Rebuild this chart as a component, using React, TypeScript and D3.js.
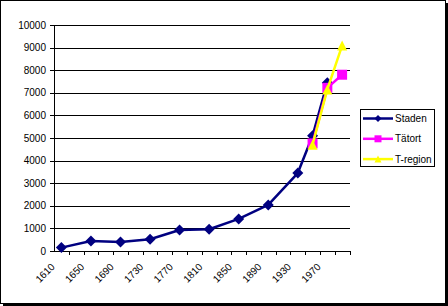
import React from "react";
import * as d3 from "d3";

const years = [
  "1610", "1630", "1650", "1670", "1690", "1710", "1730", "1750", "1770", "1790",
  "1810", "1830", "1850", "1870", "1890", "1910", "1930", "1950", "1970", "1990",
];
const staden: (number | null)[] = [150, null, 440, null, 400, null, 520, null, 930, null, 960, null, 1420, null, 2040, null, 3450, 5100, 7450, null];
const tatort: (number | null)[] = [null, null, null, null, null, null, null, null, null, null, null, null, null, null, null, null, null, 4760, 7220, 7800];
const tregion: (number | null)[] = [null, null, null, null, null, null, null, null, null, null, null, null, null, null, null, null, null, 4700, 7150, 9090];
const yTicks = [0, 1000, 2000, 3000, 4000, 5000, 6000, 7000, 8000, 9000, 10000];
const xLabelEvery = 2;

const seriesNames = ["Staden", "Tätort", "T-region"];
const seriesData = [staden, tatort, tregion];
const colors = ["#000080", "#FF00FF", "#FFFF00"];

const W = 448;
const H = 306;
const left = 54;
const right = 349.5;
const top = 25;
const bottom = 251;
const font = "'Liberation Sans', Arial, sans-serif";

function markerPath(k: number, s: number) {
  const h = s / 2;
  if (k === 0) return `M0,${-h}L${h},0L0,${h}L${-h},0Z`;
  if (k === 1) return `M${-h},${-h}H${h}V${h}H${-h}Z`;
  return `M0,${-h}L${h},${h}L${-h},${h}Z`;
}

export default function App() {
  const x = d3.scaleBand<string>().domain(years).range([left, right]);
  const cx = (i: number) => (x(years[i]) as number) + x.bandwidth() / 2;
  const y = d3.scaleLinear().domain([0, 10000]).range([bottom, top]);

  const lineGen = d3
    .line<{ i: number; v: number }>()
    .x((d) => cx(d.i))
    .y((d) => y(d.v));

  return (
    <svg width={W} height={H} style={{ position: "absolute", left: 0, top: 0 }} fontFamily={font}>
      <rect x={0} y={0} width={W} height={H} fill="#fff" />
      <rect x={0.5} y={0.5} width={445} height={302.5} fill="none" stroke="#000" strokeWidth={1} shapeRendering="crispEdges" />
      <rect x={446} y={3} width={2} height={303} fill="#000" shapeRendering="crispEdges" />
      <rect x={3} y={303.5} width={445} height={2.5} fill="#000" shapeRendering="crispEdges" />

      {yTicks.map((t) => (
        <g key={t} shapeRendering="crispEdges">
          {t > 0 && (
            <line x1={left} x2={right} y1={Math.round(y(t)) + 0.5} y2={Math.round(y(t)) + 0.5} stroke="#000" strokeWidth={1} />
          )}
          <line x1={left - 4} x2={left} y1={Math.round(y(t)) + 0.5} y2={Math.round(y(t)) + 0.5} stroke="#000" strokeWidth={1} />
          <text x={46} y={y(t)} dy="0.35em" textAnchor="end" fontSize={10} fill="#000">
            {t}
          </text>
        </g>
      ))}
      <line x1={left + 0.5} x2={left + 0.5} y1={top} y2={bottom + 0.5} stroke="#000" strokeWidth={1} shapeRendering="crispEdges" />
      <line x1={left} x2={right} y1={bottom + 0.5} y2={bottom + 0.5} stroke="#000" strokeWidth={1} shapeRendering="crispEdges" />
      {years.map((yr) => {
        const xt = Math.round((x(yr) as number) + x.bandwidth()) + 0.5;
        return <line key={"t" + yr} x1={xt} x2={xt} y1={bottom} y2={bottom + 4} stroke="#000" strokeWidth={1} shapeRendering="crispEdges" />;
      })}
      {years.map((yr, i) =>
        i % xLabelEvery === 0 ? (
          <text
            key={"l" + yr}
            transform={`translate(${cx(i) - 8.5},265) rotate(-45)`}
            dy="0.35em"
            textAnchor="end"
            fontSize={10}
            fill="#000"
          >
            {yr}
          </text>
        ) : null
      )}

      {seriesData.map((s, k) => {
        const pts = s.map((v, i) => ({ i, v })).filter((d) => d.v !== null) as { i: number; v: number }[];
        return (
          <g key={seriesNames[k]}>
            <path d={lineGen(pts) as string} fill="none" stroke={colors[k]} strokeWidth={2.5} strokeLinejoin="round" />
            {pts.map((d) => (
              <path
                key={d.i}
                d={markerPath(k, k === 0 ? 11 : 10)}
                transform={`translate(${cx(d.i)},${y(d.v)})`}
                fill={colors[k]}
              />
            ))}
          </g>
        );
      })}

      <rect x={360.5} y={109.5} width={74} height={57} fill="#fff" stroke="#000" strokeWidth={1} shapeRendering="crispEdges" />
      {seriesNames.map((n, k) => {
        const ly = 118.5 + k * 20.3;
        return (
          <g key={"lg" + n}>
            <line x1={363} x2={393} y1={ly} y2={ly} stroke={colors[k]} strokeWidth={2.5} />
            <path d={markerPath(k, 7)} transform={`translate(378,${ly})`} fill={colors[k]} />
            <text x={395} y={ly} dy="0.35em" fontSize={10} fill="#000">
              {n}
            </text>
          </g>
        );
      })}
    </svg>
  );
}
